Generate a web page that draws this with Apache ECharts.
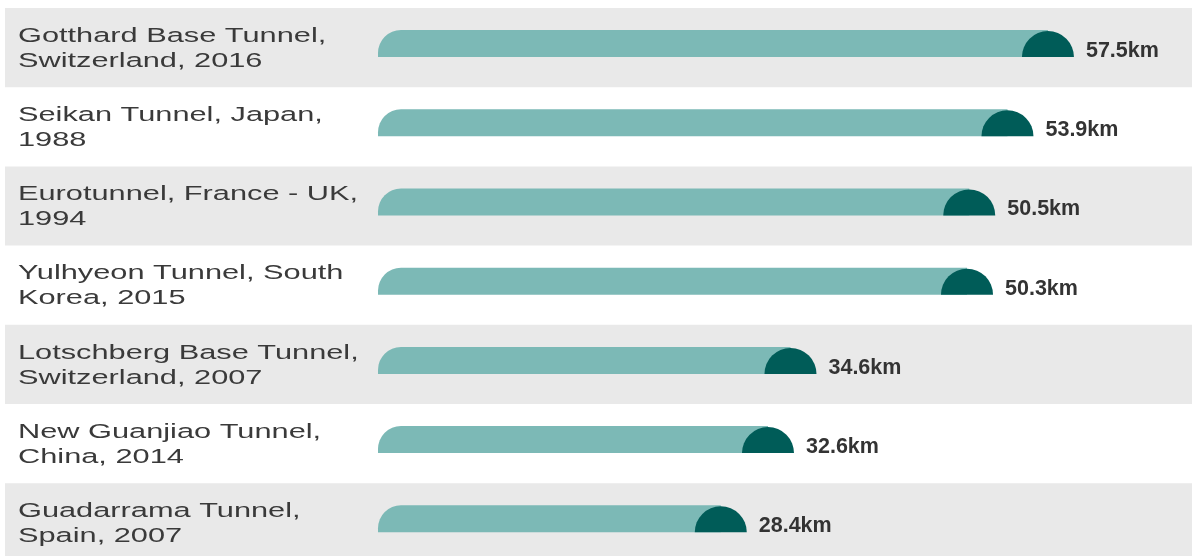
<!DOCTYPE html>
<html>
<head>
<meta charset="utf-8">
<script src="https://cdn.jsdelivr.net/npm/echarts@6/dist/echarts.min.js"></script>
<style>
html,body{margin:0;padding:0;background:#fff;overflow:hidden;}
#chart{width:1192px;height:563px;}
</style>
</head>
<body>
<div id="chart"></div>
<script>
// ---- data ----
const categories = [
  "Gotthard Base Tunnel,\nSwitzerland, 2016",
  "Seikan Tunnel, Japan,\n1988",
  "Eurotunnel, France - UK,\n1994",
  "Yulhyeon Tunnel, South\nKorea, 2015",
  "Lotschberg Base Tunnel,\nSwitzerland, 2007",
  "New Guanjiao Tunnel,\nChina, 2014",
  "Guadarrama Tunnel,\nSpain, 2007"
];
const lengthsKm = [57.5, 53.9, 50.5, 50.3, 34.6, 32.6, 28.4];
const unit = "km";

// ---- axis range ----
const AXIS_MIN = -4.4;
const AXIS_MAX = 68;

const chart = echarts.init(document.getElementById('chart'));

function renderItem(params, api) {
  const idx = api.value(0);
  const val = api.value(1);
  const cs = params.coordSys;
  const c = api.coord([0, idx])[1];
  const band = api.size([0, 1])[1];
  const x0 = api.coord([AXIS_MIN, idx])[0];
  const x1 = api.coord([val, idx])[0];
  const bottom = c + 9.5;
  const top = c - 17.5;
  const R = 26;
  const children = [];
  if (idx % 2 === 0) {
    children.push({
      type: 'rect', z2: 0,
      shape: { x: 5, y: c - band / 2, width: cs.x + cs.width - 5, height: band },
      style: { fill: '#e9e9e9' }
    });
  }
  children.push({
    type: 'rect', z2: 1,
    shape: { x: x0, y: top, width: (x1 - R) - x0, height: bottom - top, r: [23, 0, 0, 0] },
    style: { fill: '#7cb9b6' }
  });
  children.push({
    type: 'sector', z2: 2,
    shape: { cx: x1 - R, cy: bottom, r0: 0, r: R, startAngle: Math.PI, endAngle: Math.PI * 2, clockwise: true },
    style: { fill: '#005c58' }
  });
  children.push({
    type: 'text', z2: 3,
    x: x1 + 12, y: c + 3.5,
    style: {
      text: val.toFixed(1) + unit,
      fill: '#333333',
      font: 'bold 21.5px "Liberation Sans", Arial, sans-serif',
      align: 'left', verticalAlign: 'middle'
    }
  });
  children.push({
    type: 'text', z2: 3,
    x: 18, y: c + 1,
    scaleX: 1.5, scaleY: 1,
    style: {
      text: categories[idx],
      fill: '#3a3a3a',
      font: '20.5px "Liberation Sans", Arial, sans-serif',
      lineHeight: 25,
      align: 'left', verticalAlign: 'middle'
    }
  });
  return { type: 'group', children: children };
}

const option = {
  backgroundColor: '#ffffff',
  animation: false,
  grid: { left: 378, right: 0, top: 8, height: 554.4, containLabel: false },
  xAxis: {
    type: 'value', min: AXIS_MIN, max: AXIS_MAX, show: false
  },
  yAxis: {
    type: 'category', data: categories, inverse: true,
    axisLine: { show: false }, axisTick: { show: false },
    axisLabel: { show: false }, splitLine: { show: false }
  },
  series: [{
    type: 'custom',
    clip: false,
    renderItem: renderItem,
    encode: { x: 1, y: 0 },
    data: lengthsKm.map((v, i) => [i, v])
  }]
};
chart.setOption(option);
</script>
</body>
</html>
